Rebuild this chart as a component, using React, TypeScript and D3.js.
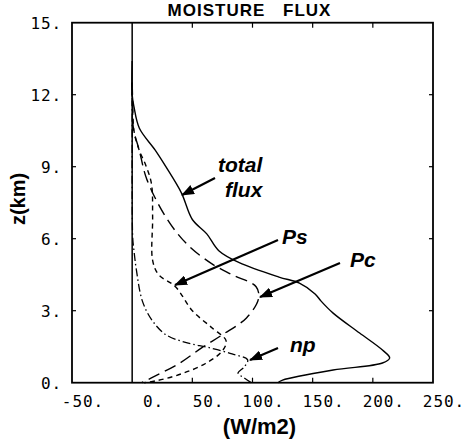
import React from "react";
import * as d3 from "d3";

// Height (km) and flux (W/m2)
const totalZ = [13.4, 12.0, 11.5, 10.6, 9.7, 9.0, 7.9, 6.8, 6.2, 5.5, 5.0, 4.4, 4.15, 3.7, 3.4, 2.9, 2.07, 1.36, 1.03, 0.82, 0.53, 0.11, 0];
const totalW = [0, 0, 1.5, 6, 19, 28, 41, 50, 62, 72, 89, 122, 139, 152, 157, 167, 189, 208, 214, 208, 167, 125, 121];

const psZ = [12.5, 11.5, 10.6, 9.67, 8.5, 6.9, 5.8, 4.96, 4.5, 4.0, 3.5, 2.7, 2.0, 1.46, 0.8, 0.2, 0];
const psW = [0, 0.5, 1, 6, 12, 28, 45, 66, 83, 103, 105, 95, 75, 58, 39, 16, 8];

const pcZ = [12.5, 10.5, 9.67, 9.1, 8.3, 6.9, 5.1, 4.5, 4.0, 3.0, 2.3, 1.75, 1.33, 0.8, 0.37, 0.08, 0];
const pcW = [0, 1.5, 6, 11, 16, 17, 17, 22, 36, 50, 66, 78, 75, 61, 41, 20, 10];

const npZ = [12.5, 10, 8, 6, 5.5, 4.7, 3.4, 2.6, 2.0, 1.67, 1.46, 1.2, 0.95, 0.65, 0.4, 0.2, 0];
const npW = [0, 0, 0, 0.5, 1.5, 3.5, 8.5, 16.5, 28, 45, 64, 83, 96, 93, 88, 93, 99];

const xTicks = [-50, 0, 50, 100, 150, 200, 250];
const yTicks = [0, 3, 6, 9, 12, 15];

export default function App() {
  const W = 468, H = 446;
  const x = d3.scaleLinear().domain([-50, 250]).range([72, 433]);
  const y = d3.scaleLinear().domain([0, 15]).range([382.7, 22.7]);

  const mk = (zs: number[], ws: number[]) =>
    d3.line<number>()
      .x((_, i) => x(ws[i]))
      .y((_, i) => y(zs[i]))
      .curve(d3.curveCatmullRom.alpha(0.5))(zs) || "";

  const tickFont = "'DejaVu Sans Mono', monospace";
  const sans = "'Liberation Sans', Arial, sans-serif";

  const arrows = [
    [215, 178, 182, 195],
    [278, 240, 175, 285],
    [340, 263, 260, 297],
    [278, 348, 250, 360],
  ];

  return (
    <svg width={W} height={H} style={{ position: "absolute", left: 0, top: 0, background: "#fff" }}>
      <defs>
        <marker id="ah" markerUnits="userSpaceOnUse" markerWidth={14} markerHeight={10} refX={12} refY={5} orient="auto">
          <path d="M0,0 L13,5 L0,10 Z" fill="#000" />
        </marker>
      </defs>
      <rect x={0} y={0} width={W} height={H} fill="#fff" />
      {/* title */}
      <text x={249.5} y={15.5} textAnchor="middle" fontFamily={sans} fontWeight="bold" fontSize={17} letterSpacing={1} wordSpacing={12}>
        MOISTURE FLUX
      </text>
      {/* frame */}
      <rect x={x(-50)} y={y(15)} width={x(250) - x(-50)} height={y(0) - y(15)} fill="none" stroke="#000" strokeWidth={1.8} />
      <line x1={x(0)} x2={x(0)} y1={y(15)} y2={y(0)} stroke="#000" strokeWidth={1.5} />
      {/* ticks */}
      {yTicks.filter(t => t > 0 && t < 15).map(t => (
        <g key={"yt" + t}>
          <line x1={x(-50)} x2={x(-50) + 4} y1={y(t)} y2={y(t)} stroke="#000" strokeWidth={1.2} />
          <line x1={x(250) - 4} x2={x(250)} y1={y(t)} y2={y(t)} stroke="#000" strokeWidth={1.2} />
        </g>
      ))}
      {xTicks.filter(t => t > 0 && t < 250).map(t => (
        <g key={"xt" + t}>
          <line x1={x(t)} x2={x(t)} y1={y(0)} y2={y(0) - 5} stroke="#000" strokeWidth={1.2} />
          <line x1={x(t)} x2={x(t)} y1={y(15)} y2={y(15) + 5} stroke="#000" strokeWidth={1.2} />
        </g>
      ))}
      {/* tick labels */}
      {yTicks.map(t => (
        <text key={"yl" + t} x={62} y={y(t) + 6} textAnchor="end" fontFamily={tickFont} fontSize={16} letterSpacing={0.9}>
          {t + "."}
        </text>
      ))}
      {xTicks.map(t => (
        <text key={"xl" + t} x={x(t) + 32} y={407} textAnchor="end" fontFamily={tickFont} fontSize={16} letterSpacing={0.9}>
          {t + "."}
        </text>
      ))}
      {/* axis titles */}
      <text x={259.5} y={434} textAnchor="middle" fontFamily={sans} fontWeight="bold" fontSize={22}>(W/m2)</text>
      <text transform="translate(25,199) rotate(-90)" textAnchor="middle" fontFamily={sans} fontWeight="bold" fontSize={20}>z(km)</text>
      {/* curves */}
      <path d={mk(totalZ, totalW)} fill="none" stroke="#000" strokeWidth={1.4} />
      <path d={mk(psZ, psW)} fill="none" stroke="#000" strokeWidth={1.4} strokeDasharray="12,6" />
      <path d={mk(pcZ, pcW)} fill="none" stroke="#000" strokeWidth={1.4} strokeDasharray="5,4" />
      <path d={mk(npZ, npW)} fill="none" stroke="#000" strokeWidth={1.3} strokeDasharray="8,3,1.5,3" />
      {/* annotations */}
      {arrows.map((a, i) => (
        <line key={"ar" + i} x1={a[0]} y1={a[1]} x2={a[2]} y2={a[3]} stroke="#000" strokeWidth={2.2} markerEnd="url(#ah)" />
      ))}
      <g fontFamily={sans} fontWeight="bold" fontStyle="italic" fontSize={21}>
        <text x={218} y={172}>total</text>
        <text x={225} y={197}>flux</text>
        <text x={282} y={244}>Ps</text>
        <text x={350} y={267}>Pc</text>
        <text x={290} y={352}>np</text>
      </g>
    </svg>
  );
}
